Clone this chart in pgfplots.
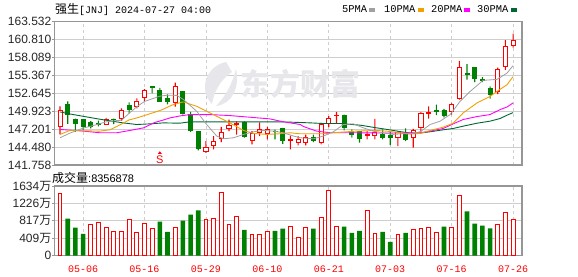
\documentclass[border=0pt]{standalone}
\usepackage{pgfplots}
\pgfplotsset{compat=1.18}
\usepackage{pgfplotstable}
\usepackage{fontspec}
\setmainfont{Liberation Sans}
\setmonofont{Liberation Mono}
\newfontfamily\cjk{Noto Sans CJK SC}
\definecolor{upred}{RGB}{255,0,0}
\definecolor{dngreen}{RGB}{0,128,0}
\definecolor{maA}{RGB}{160,160,160}
\definecolor{maB}{RGB}{240,160,0}
\definecolor{maC}{RGB}{255,0,255}
\definecolor{maD}{RGB}{0,102,51}
\definecolor{gridc}{RGB}{206,206,206}
\definecolor{framec}{RGB}{150,150,150}
\definecolor{wmark}{RGB}{231,231,235}

\pgfplotstableread{
i o h l c
0 147.65 150.66 146.40 150.01
6 147.95 148.90 147.85 148.60
8 148.85 150.35 148.45 149.96
10 150.71 151.86 150.35 151.47
11 151.97 153.28 151.47 153.13
15 151.26 154.27 150.61 153.73
19 143.87 145.38 143.60 144.47
20 144.77 146.13 144.12 145.38
21 145.74 147.55 145.23 146.73
22 147.34 148.65 146.88 147.74
23 147.85 148.39 146.38 148.04
25 145.53 146.88 144.87 146.54
26 146.73 148.24 146.13 147.14
27 146.58 147.55 145.63 147.14
30 145.50 146.23 144.12 145.56
31 145.23 146.13 144.73 145.63
32 145.13 146.38 144.73 145.89
34 145.23 148.15 144.87 147.84
35 148.04 149.16 147.50 148.75
36 149.25 149.81 148.15 149.31
40 146.30 146.90 145.64 146.40
41 146.30 148.76 145.64 146.65
44 145.90 146.90 144.64 146.65
46 145.90 147.25 144.40 147.05
47 147.40 149.81 146.80 149.51
48 149.60 150.66 148.81 149.66
51 149.81 151.17 149.41 151.02
52 151.82 157.55 151.67 156.54
57 152.92 156.54 152.52 156.29
58 156.69 160.71 156.19 159.71
59 159.86 161.71 159.55 160.61
}\redc

\pgfplotstableread{
i o h l c
1 150.92 151.42 148.00 149.51
2 148.66 148.80 146.80 148.05
3 148.61 148.76 147.00 147.65
4 148.20 148.40 147.30 147.65
5 148.00 148.50 147.60 147.95
7 148.70 148.80 147.95 148.65
9 150.76 151.26 149.60 150.20
12 153.62 153.64 152.62 153.58
13 153.13 153.47 151.40 151.47
14 151.86 152.46 150.96 151.36
16 152.92 152.95 149.41 149.66
17 149.41 149.81 146.80 147.00
18 146.90 146.90 143.99 144.29
24 148.15 148.39 145.90 146.13
28 146.90 147.14 145.63 146.86
29 147.24 147.39 144.98 145.53
33 145.89 146.38 145.23 145.53
37 149.31 149.40 147.00 147.40
38 146.65 147.15 145.90 146.40
39 146.80 146.80 145.14 145.80
42 146.40 147.15 145.64 145.90
43 146.30 146.90 144.79 145.90
45 146.50 147.30 145.39 145.64
49 150.00 150.92 149.31 149.95
50 150.06 150.26 149.00 149.31
53 155.60 157.05 154.70 155.50
54 156.59 156.60 154.33 154.93
55 154.78 155.08 154.33 154.53
56 153.33 153.68 151.82 152.52
}\greenc

\pgfplotstableread{
i v
0 1457
4 740
5 788
6 669
7 573
8 573
9 836
10 549
11 764
12 645
15 669
19 836
20 868
21 1481
22 740
23 907
25 501
26 501
27 573
30 693
31 414
32 669
34 884
35 1536
36 693
40 1059
41 525
44 486
46 605
47 629
48 653
49 533
51 653
52 1417
57 724
58 1003
59 844
}\redv

\pgfplotstableread{
i v
1 868
2 653
3 509
13 796
14 557
16 820
17 963
18 1059
24 605
28 581
29 629
33 629
37 677
38 533
39 581
42 557
43 318
45 533
50 677
53 1035
54 748
55 700
56 637
}\greenv

\pgfplotsset{
  pricebox/.style={scale only axis, width=467.5pt, height=143.5pt,
    at={(54.5pt,111pt)}, anchor=south west,
    xmin=-0.72, xmax=60.16, ymin=141.758, ymax=163.532},
  volbox/.style={scale only axis, width=467.5pt, height=69.5pt,
    at={(54.5pt,20.5pt)}, anchor=south west,
    xmin=-0.72, xmax=60.16, ymin=0, ymax=1634},
  hidebox/.style={axis lines=none, ticks=none},
  framed/.style={axis line style={framec, line width=1.2pt},
    xtick={3,11,19,27,35,43,51,59},
    xmajorgrids, ymajorgrids,
    x grid style={gridc, dash pattern=on 3pt off 3pt, line width=0.8pt},
    y grid style={gridc, line width=0.9pt},
    xtick style={draw=none},
    ytick style={framec, line width=0.8pt},
    tick align=outside, major tick length=2.5pt,
    ytick pos=left,
    yticklabel style={anchor=east, inner sep=0pt, xshift=-0.5pt,
      font=\fontsize{12}{12}\selectfont, text=black!85}},
}

\begin{document}
\begin{tikzpicture}[x=1pt,y=1pt]
\useasboundingbox (0,0) rectangle (578,276);

% header
\node[anchor=west, inner sep=0pt] at (55,267)
  {{\cjk\fontsize{12}{12}\selectfont 强生}{\ttfamily\fontsize{10}{10}\selectfont [JNJ] 2024-07-27 04:00}};
\node[anchor=west, inner sep=0pt] at (342,267) {\ttfamily\fontsize{10.4}{10.4}\selectfont 5PMA};
\fill[maA] (369,263.5) rectangle (375,267.5);
\node[anchor=west, inner sep=0pt] at (384,267) {\ttfamily\fontsize{10.4}{10.4}\selectfont 10PMA};
\fill[maB] (418,263.5) rectangle (424,267.5);
\node[anchor=west, inner sep=0pt] at (431,267) {\ttfamily\fontsize{10.4}{10.4}\selectfont 20PMA};
\fill[maC] (464,263.5) rectangle (470,267.5);
\node[anchor=west, inner sep=0pt] at (477,267) {\ttfamily\fontsize{10.4}{10.4}\selectfont 30PMA};
\fill[maD] (511,263.5) rectangle (517,267.5);

% price frame and grid
\begin{axis}[pricebox, framed,
  xticklabels={},
  ytick={141.758,144.480,147.201,149.923,152.645,155.367,158.089,160.810,163.532},
  yticklabels={141.758,144.480,147.201,149.923,152.645,155.367,158.089,160.810,163.532}]
\end{axis}

% watermark (logo mark and name)
\fill[wmark] (226,214) .. controls (206,210) and (198,186) .. (212,172)
  .. controls (214,184) and (220,196) .. (232,204) -- cycle;
\fill[wmark] (236,207) .. controls (232,192) and (226,180) .. (216,170)
  .. controls (232,172) and (240,188) .. (236,207) -- cycle;
\node[text=wmark, inner sep=0pt] at (300,192) {\cjk\bfseries\fontsize{30}{30}\selectfont 东方财富};

% green candles
\begin{axis}[pricebox, hidebox, ybar stacked]
\addplot[draw=none, fill=none, bar width=4pt] table[x=i, y=l] {\greenc};
\addplot[draw=none, fill=dngreen, bar width=1.1pt] table[x=i, y expr=\thisrow{c}-\thisrow{l}] {\greenc};
\addplot[draw=dngreen, fill=dngreen, line width=0.8pt, bar width=4pt] table[x=i, y expr=\thisrow{o}-\thisrow{c}] {\greenc};
\addplot[draw=none, fill=dngreen, bar width=1.1pt] table[x=i, y expr=\thisrow{h}-\thisrow{o}] {\greenc};
\end{axis}

% red candles
\begin{axis}[pricebox, hidebox, ybar stacked]
\addplot[draw=none, fill=none, bar width=4pt] table[x=i, y=l] {\redc};
\addplot[draw=none, fill=upred, bar width=1.1pt] table[x=i, y expr=\thisrow{o}-\thisrow{l}] {\redc};
\addplot[draw=upred, fill=white, line width=0.9pt, bar width=4.1pt] table[x=i, y expr=\thisrow{c}-\thisrow{o}] {\redc};
\addplot[draw=none, fill=upred, bar width=1.1pt] table[x=i, y expr=\thisrow{h}-\thisrow{c}] {\redc};
\end{axis}

% moving averages
\begin{axis}[pricebox, hidebox]
\addplot[maD, line width=0.9pt] coordinates {(0,149.81)(1.3,149.5)(3,149.15)(5.2,148.7)(8.2,148.15)(10,147.90)(11.7,148.0)(13.5,148.15)(15.6,148.1)(16.9,148.31)(23,148.31)(28.6,148.31)(30,148.26)(32.6,148.15)(34.3,148.05)(36.5,148.05)(39.1,147.80)(41.2,147.40)(42.9,147.10)(44.7,146.75)(45.6,146.6)(46.9,146.6)(48.2,146.8)(49.9,147.10)(51.2,147.30)(52.5,147.65)(54.3,148.10)(56,148.41)(57.3,148.81)(58.2,149.31)(59,149.71)};
\addplot[maC, line width=0.9pt] coordinates {(0,147.15)(2,147.0)(3.5,146.85)(5.2,146.65)(7.4,146.65)(9.1,147.0)(10.9,147.40)(12.3,148.2)(13.5,148.6)(14.3,148.9)(15.6,149.2)(16.9,149.41)(19.5,149.41)(22.1,149.26)(24.7,149.01)(27.3,148.76)(29.1,148.31)(31.3,147.90)(31.7,147.6)(33.4,146.90)(35.2,146.65)(38.6,146.65)(42.9,146.60)(46.9,146.65)(48.2,146.9)(49.9,147.30)(51.2,148.0)(52.5,148.66)(54.3,149.11)(56,149.41)(57.3,150.16)(58.2,150.56)(59,151.17)};
\addplot[maB, line width=0.9pt] coordinates {(0,146.4)(1.3,147.0)(3,146.95)(5.2,146.9)(6.5,147.1)(7.9,147.9)(9,148.6)(10,148.9)(11.5,149.45)(13.2,150.1)(14.6,150.86)(15.9,151.3)(16.1,151.32)(17.8,150.66)(19.97,149.41)(22.1,148.15)(23.9,147.0)(25.2,146.55)(26.9,146.40)(28.6,146.50)(29.95,146.65)(31.2,146.5)(32.1,146.5)(34.3,146.5)(35.6,146.65)(38.6,146.9)(41.2,147.0)(42.5,146.9)(44.3,146.65)(45.6,146.45)(46.9,146.55)(48.2,147.0)(49.9,147.5)(51.2,148.1)(52.5,149.66)(54.3,151.17)(56,152.17)(56.9,152.92)(58.2,153.93)(59,155.18)};
\addplot[maA, line width=0.8pt] coordinates {(0,145.89)(1.3,146.6)(3,147.35)(4.5,147.8)(6,148.3)(7.4,148.5)(8,148.55)(9,149.6)(10,150.6)(11,151.4)(12,151.8)(13,152.2)(14,152.35)(15.2,152.32)(16.1,151.67)(17.8,149.91)(19.1,147.90)(20.4,146.15)(21.3,145.74)(22.6,145.89)(23.9,146.40)(25.2,146.80)(26.5,147.0)(27.8,146.9)(29.1,146.65)(30.4,146.15)(31.3,145.89)(33,145.74)(34.3,146.15)(35.6,146.80)(36.9,147.90)(38.2,148.0)(39.5,147.40)(40.8,146.90)(42.1,146.65)(43.4,146.40)(44.7,146.50)(45.6,146.5)(46.9,146.8)(48.2,147.9)(49.5,148.41)(50.8,149.41)(52.1,151.42)(53.4,152.92)(55.1,154.6)(56.9,154.75)(58.2,155.69)(59,156.84)};
\node[text=upred, inner sep=0pt, font=\fontsize{11}{11}\selectfont] at (axis cs:13,142.6) {S};
\fill[upred] (axis cs:12.75,143.45) -- (axis cs:13.25,143.45) -- (axis cs:13,143.85) -- cycle;
\end{axis}

% volume
\node[anchor=west, inner sep=0pt] at (52,98)
  {{\cjk\fontsize{12}{12}\selectfont 成交量}{\fontsize{11}{11}\selectfont :8356878}};
\begin{axis}[volbox, framed,
  ytick={0,409,817,1226,1634},
  yticklabels={0,409{\cjk 万},817{\cjk 万},1226{\cjk 万},1634{\cjk 万}},
  xticklabels={05-06,05-16,05-29,06-10,06-21,07-03,07-16,07-26},
  xticklabel style={anchor=center, yshift=-11.5pt, text=upred,
    font=\ttfamily\fontsize{10}{10}\selectfont},
  ybar]
\addplot[bar shift=0pt, bar width=3.8pt, draw=upred, fill=white, line width=0.9pt] table[x=i, y=v] {\redv};
\addplot[bar shift=0pt, bar width=4.6pt, draw=none, fill=dngreen] table[x=i, y=v] {\greenv};
\end{axis}
\end{tikzpicture}
\end{document}
